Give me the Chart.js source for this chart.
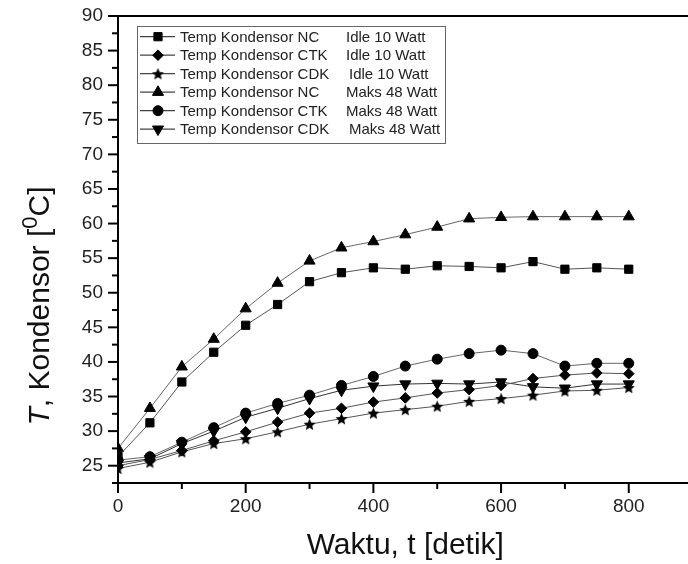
<!DOCTYPE html>
<html>
<head>
<meta charset="utf-8">
<script src="https://cdn.jsdelivr.net/npm/chart.js@4.4.1/dist/chart.umd.min.js"></script>
<style>
  html, body { margin: 0; padding: 0; overflow: hidden; background: #fff; }
  #wrap { width: 700px; height: 564px; position: relative; }
</style>
</head>
<body>
<div id="wrap"><canvas id="c"></canvas></div>
<script>
// ---- data ----
const timeSec = [0, 50, 100, 150, 200, 250, 300, 350, 400, 450, 500, 550, 600, 650, 700, 750, 800];
const ncIdle  = [26.3, 31.2, 37.1, 41.4, 45.3, 48.3, 51.6, 52.9, 53.6, 53.4, 53.9, 53.8, 53.6, 54.5, 53.4, 53.6, 53.4];
const ctkIdle = [25.0, 25.9, 27.2, 28.6, 29.9, 31.3, 32.6, 33.3, 34.2, 34.8, 35.5, 36.0, 36.6, 37.6, 38.1, 38.4, 38.3];
const cdkIdle = [24.6, 25.5, 27.0, 28.2, 28.9, 29.9, 31.0, 31.8, 32.6, 33.1, 33.6, 34.3, 34.7, 35.2, 35.8, 35.9, 36.3];
const ncMaks  = [27.5, 33.3, 39.3, 43.3, 47.7, 51.4, 54.6, 56.5, 57.4, 58.4, 59.5, 60.7, 60.9, 61.0, 61.0, 61.0, 61.0];
const ctkMaks = [25.8, 26.3, 28.4, 30.5, 32.6, 34.0, 35.2, 36.6, 37.9, 39.4, 40.4, 41.2, 41.7, 41.2, 39.4, 39.8, 39.8];
const cdkMaks = [25.4, 26.0, 28.2, 30.0, 32.0, 33.3, 34.7, 35.9, 36.5, 36.8, 36.9, 36.8, 37.1, 36.4, 36.2, 36.8, 36.8];

const seriesNames = ['Temp Kondensor NC', 'Temp Kondensor CTK', 'Temp Kondensor CDK',
                     'Temp Kondensor NC', 'Temp Kondensor CTK', 'Temp Kondensor CDK'];
const seriesConditions = ['Idle 10 Watt', 'Idle 10 Watt', 'Idle 10 Watt',
                          'Maks 48 Watt', 'Maks 48 Watt', 'Maks 48 Watt'];
const seriesValues = [ncIdle, ctkIdle, cdkIdle, ncMaks, ctkMaks, cdkMaks];

const xTickLabels = [0, 200, 400, 600, 800];
const xMinorTicks = [100, 300, 500, 700];
const yTickLabels = [25, 30, 35, 40, 45, 50, 55, 60, 65, 70, 75, 80, 85, 90];
const yMinorTicks = [22.5, 27.5, 32.5, 37.5, 42.5, 47.5, 52.5, 57.5, 62.5, 67.5, 72.5, 77.5, 82.5, 87.5];

const xTitle = 'Waktu, t [detik]';
const yTitleParts = { italic: 'T', main: ', Kondensor [', sup: '0', end: 'C]' };

// ---- styles ----
const FONT = '"Liberation Sans", Arial, sans-serif';

function makeStar(r) {
  const s = Math.ceil(r * 2 + 2);
  const c = document.createElement('canvas');
  c.width = s; c.height = s;
  const g = c.getContext('2d');
  g.fillStyle = '#000';
  g.beginPath();
  for (let i = 0; i < 10; i++) {
    const rad = i % 2 ? r * 0.45 : r;
    const a = -Math.PI / 2 + i * Math.PI / 5;
    g.lineTo(s / 2 + rad * Math.cos(a), s / 2 + rad * Math.sin(a) + 0.6);
  }
  g.closePath();
  g.fill();
  return c;
}
const starImg = makeStar(6.3);

const markerStyles = [
  { pointStyle: 'rect', radius: 5.8, rotation: 0 },
  { pointStyle: 'rectRot', radius: 5.3, rotation: 0 },
  { pointStyle: starImg, radius: 6, rotation: 0 },
  { pointStyle: 'triangle', radius: 6.4, rotation: 0 },
  { pointStyle: 'circle', radius: 5, rotation: 0 },
  { pointStyle: 'triangle', radius: 6.4, rotation: 180 }
];
const lineColors = ['#555', '#555', '#555', '#666', '#666', '#333'];

const datasets = seriesValues.map((vals, i) => ({
  label: seriesNames[i] + ' ' + seriesConditions[i],
  data: timeSec.map((t, k) => ({ x: t, y: vals[k] })),
  borderColor: lineColors[i],
  borderWidth: 1,
  backgroundColor: '#000',
  pointStyle: markerStyles[i].pointStyle,
  pointRadius: markerStyles[i].radius,
  pointRotation: markerStyles[i].rotation,
  pointBackgroundColor: '#000',
  pointBorderColor: '#000',
  pointBorderWidth: 1,
  tension: 0,
  fill: false
}));

// ---- custom drawing: frame, ticks, y title, legend ----
const decorPlugin = {
  id: 'decor',
  afterDraw(chart) {
    const ctx = chart.ctx;
    const ca = chart.chartArea;
    const xs = chart.scales.x, ys = chart.scales.y;
    ctx.save();
    ctx.strokeStyle = '#000';
    // top frame line
    ctx.lineWidth = 2;
    ctx.beginPath();
    ctx.moveTo(ca.left - 1, ca.top);
    ctx.lineTo(ca.right + 10, ca.top);
    ctx.stroke();
    // x ticks (outward)
    xTickLabels.forEach(v => {
      const px = xs.getPixelForValue(v);
      ctx.beginPath(); ctx.moveTo(px, ca.bottom); ctx.lineTo(px, ca.bottom + 10); ctx.stroke();
    });
    xMinorTicks.forEach(v => {
      const px = xs.getPixelForValue(v);
      ctx.beginPath(); ctx.moveTo(px, ca.bottom); ctx.lineTo(px, ca.bottom + 6); ctx.stroke();
    });
    // y ticks (outward)
    yTickLabels.forEach(v => {
      const py = ys.getPixelForValue(v);
      ctx.beginPath(); ctx.moveTo(ca.left, py); ctx.lineTo(ca.left - 10, py); ctx.stroke();
    });
    yMinorTicks.forEach(v => {
      const py = ys.getPixelForValue(v);
      ctx.beginPath(); ctx.moveTo(ca.left, py); ctx.lineTo(ca.left - 6, py); ctx.stroke();
    });

    // y axis title with italic T and superscript 0
    ctx.save();
    ctx.translate(41, 306);
    ctx.rotate(-Math.PI / 2);
    ctx.fillStyle = '#111';
    ctx.textBaseline = 'middle';
    const fMain = '30px ' + FONT, fIt = 'italic 30px ' + FONT, fSup = '22px ' + FONT;
    ctx.font = fIt; const w1 = ctx.measureText(yTitleParts.italic).width;
    ctx.font = fMain; const w2 = ctx.measureText(yTitleParts.main).width;
    ctx.font = fSup; const w3 = ctx.measureText(yTitleParts.sup).width;
    ctx.font = fMain; const w4 = ctx.measureText(yTitleParts.end).width;
    let x = -(w1 + w2 + w3 + w4) / 2;
    ctx.textAlign = 'left';
    ctx.font = fIt; ctx.fillText(yTitleParts.italic, x, 0); x += w1;
    ctx.font = fMain; ctx.fillText(yTitleParts.main, x, 0); x += w2;
    ctx.font = fSup; ctx.fillText(yTitleParts.sup, x, -10); x += w3;
    ctx.font = fMain; ctx.fillText(yTitleParts.end, x, 0);
    ctx.restore();

    // legend
    const lx = 137.5, ly = 26.5, lw = 308, lh = 117;
    ctx.fillStyle = '#fff';
    ctx.fillRect(lx, ly, lw, lh);
    ctx.strokeStyle = '#666';
    ctx.lineWidth = 1;
    ctx.strokeRect(lx, ly, lw, lh);
    ctx.font = '15px ' + FONT;
    ctx.textBaseline = 'middle';
    ctx.textAlign = 'left';
    datasets.forEach((ds, i) => {
      const y = 36.7 + 18.5 * i;
      ctx.strokeStyle = '#444';
      ctx.lineWidth = 1.2;
      ctx.beginPath(); ctx.moveTo(140, y); ctx.lineTo(175, y); ctx.stroke();
      ctx.fillStyle = '#000';
      ctx.strokeStyle = '#000';
      ctx.lineWidth = 1;
      Chart.helpers.drawPoint(ctx, {
        pointStyle: ds.pointStyle, rotation: ds.pointRotation,
        radius: ds.pointRadius, borderWidth: 1
      }, 158, y);
      ctx.fillStyle = '#222';
      ctx.fillText(seriesNames[i], 180, y + 1);
      ctx.fillText(seriesConditions[i], i === 2 || i === 5 ? 349 : 346, y + 1);
    });
    ctx.restore();
  }
};

new Chart(document.getElementById('c'), {
  type: 'line',
  data: { datasets },
  plugins: [decorPlugin],
  options: {
    responsive: true,
    maintainAspectRatio: false,
    animation: false,
    layout: { padding: { top: 16, right: 4, left: 0, bottom: 0 } },
    plugins: { legend: { display: false }, tooltip: { enabled: false } },
    scales: {
      x: {
        type: 'linear',
        min: 0, max: 900,
        afterFit(scale) { scale.height = 81; scale.paddingLeft = 0; scale.paddingRight = 0; },
        afterBuildTicks(scale) { scale.ticks = xTickLabels.map(v => ({ value: v })); },
        grid: { display: false, drawTicks: false },
        border: { display: true, color: '#000', width: 2 },
        ticks: {
          padding: 12,
          color: '#222',
          font: { family: FONT, size: 19 },
          maxRotation: 0,
          autoSkip: false
        },
        title: {
          display: true,
          text: xTitle,
          color: '#111',
          font: { family: FONT, size: 30 },
          padding: { top: 0, bottom: 0 }
        }
      },
      y: {
        min: 22.5, max: 90,
        afterFit(scale) { scale.width = 118; scale.paddingTop = 0; scale.paddingBottom = 0; },
        afterBuildTicks(scale) { scale.ticks = yTickLabels.map(v => ({ value: v })); },
        grid: { display: false, drawTicks: false },
        border: { display: true, color: '#000', width: 2 },
        ticks: {
          padding: 15,
          color: '#222',
          font: { family: FONT, size: 19 },
          autoSkip: false
        }
      }
    }
  }
});
</script>
</body>
</html>
